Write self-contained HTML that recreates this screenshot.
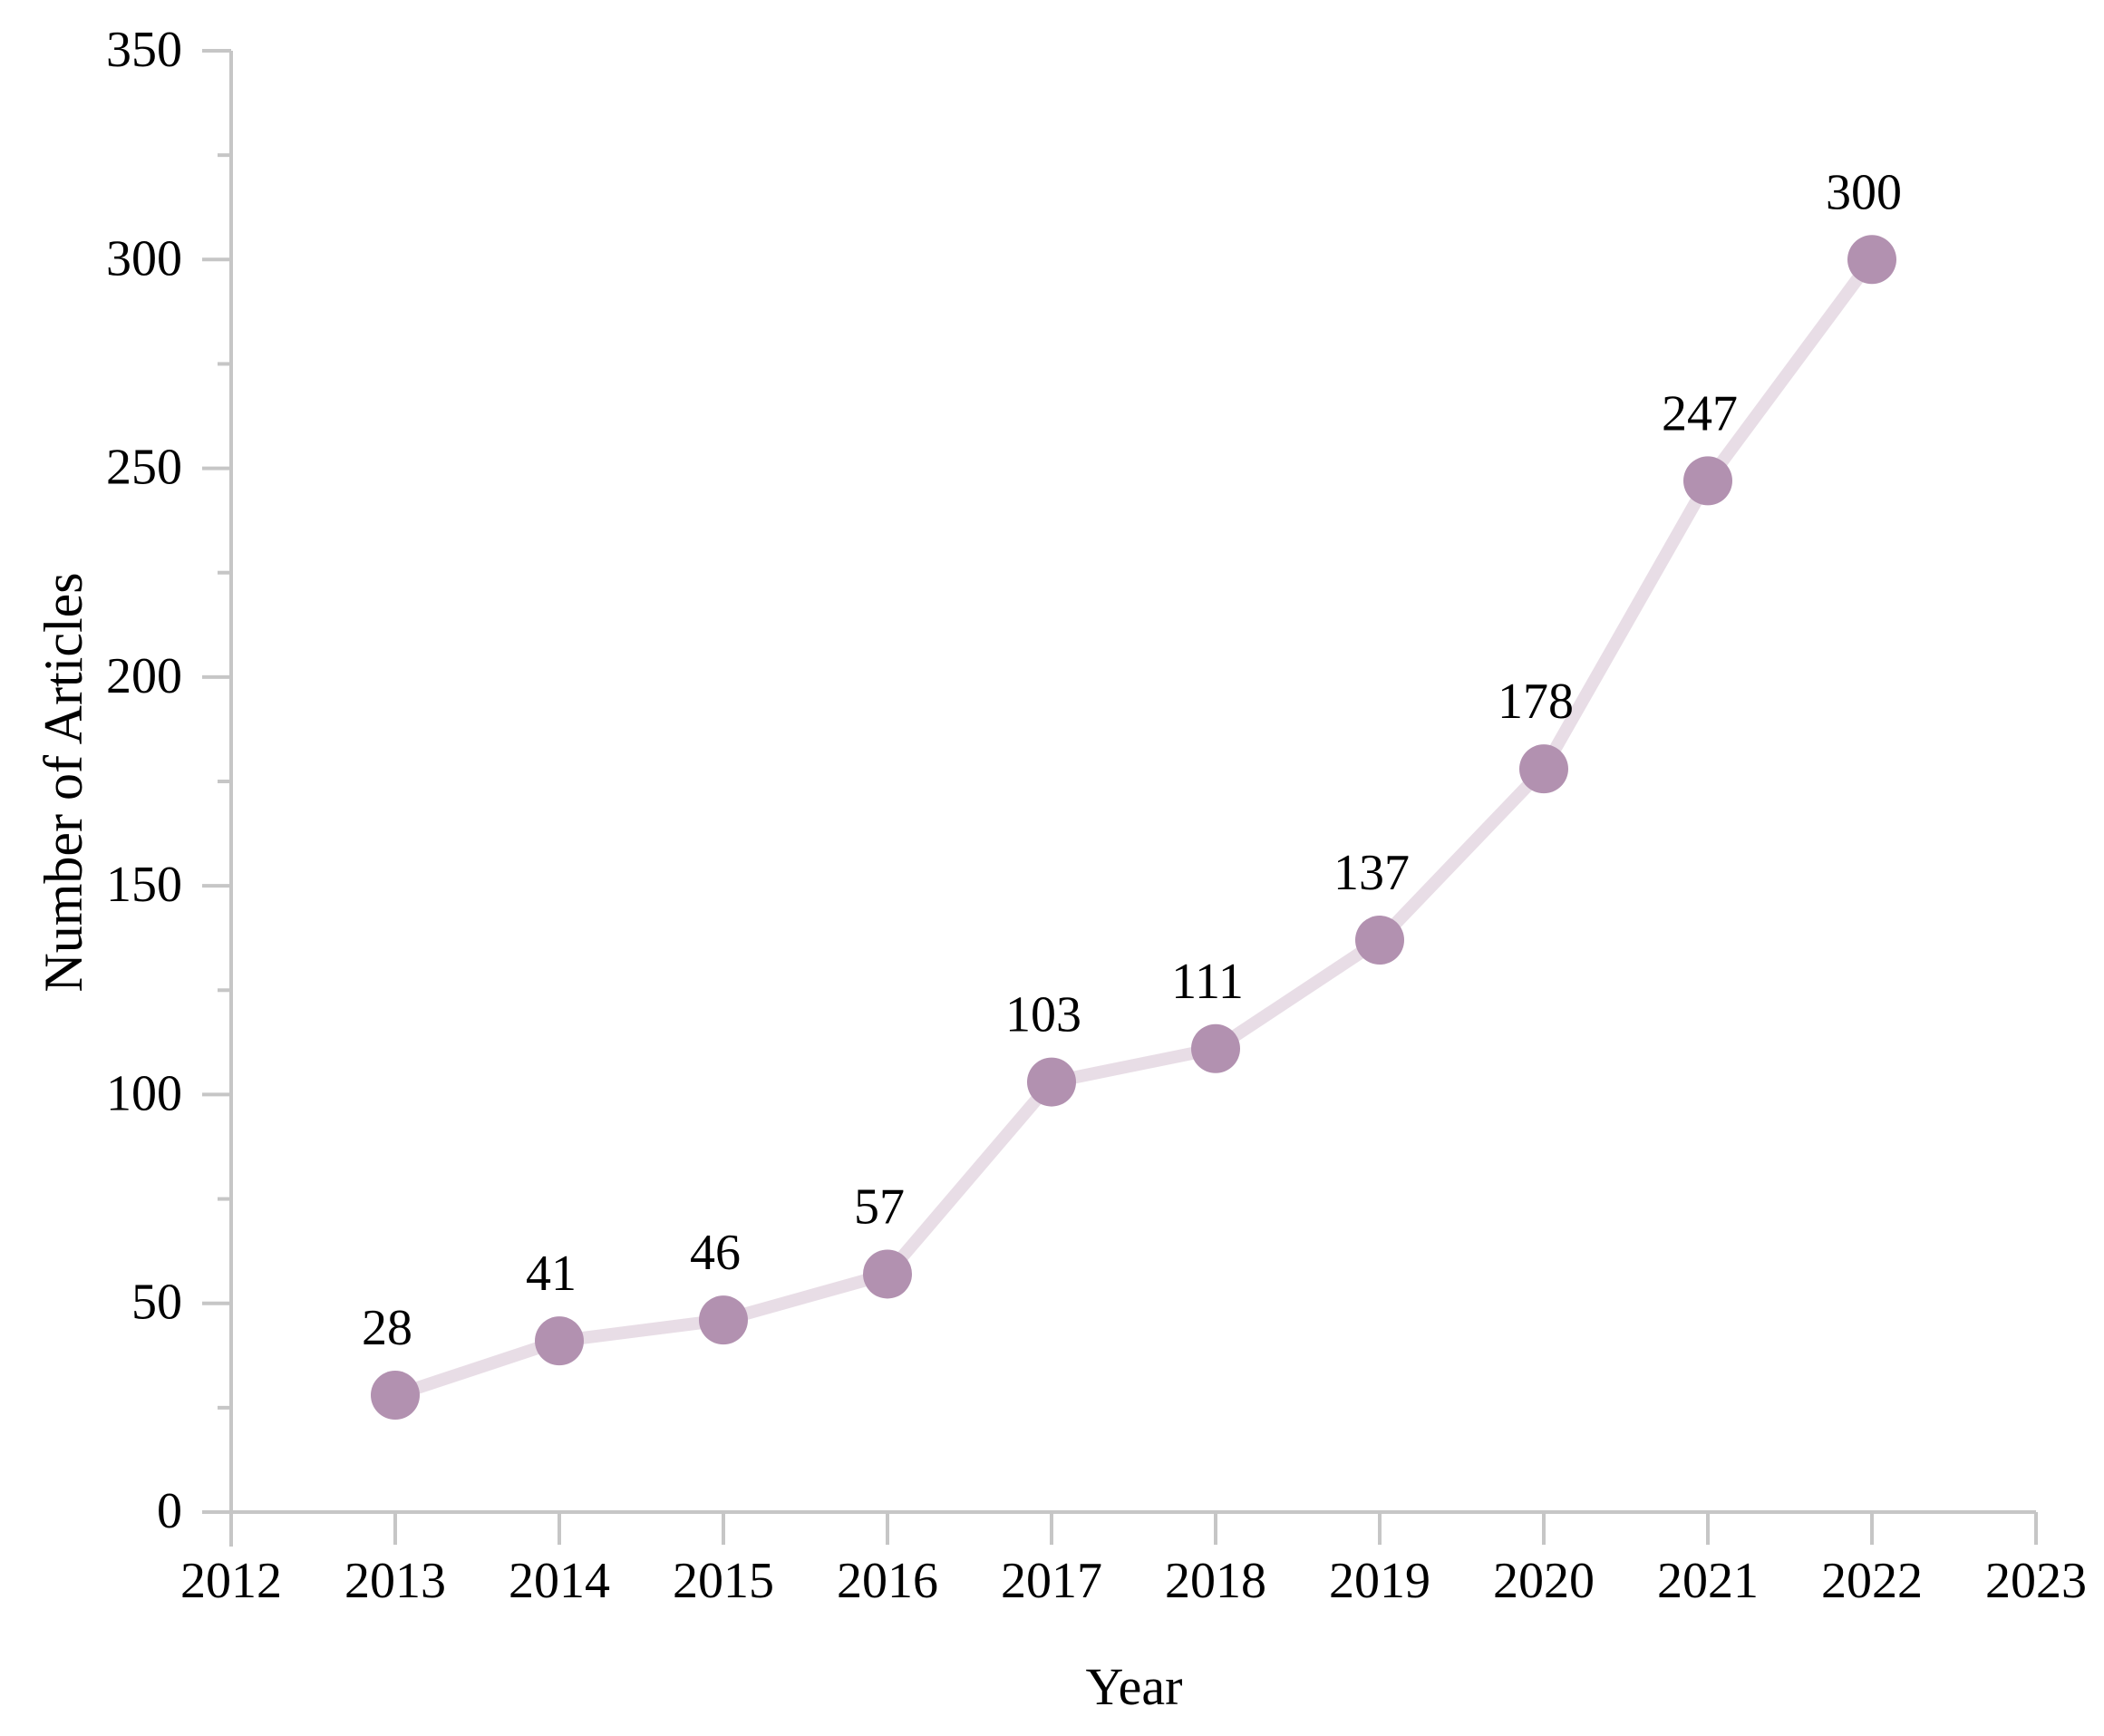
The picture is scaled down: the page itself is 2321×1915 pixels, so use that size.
<!DOCTYPE html>
<html><head><meta charset="utf-8"><style>
html,body{margin:0;padding:0;background:#fff;}
svg text{font-family:"Liberation Serif",serif;fill:#000;}
</style></head><body>
<svg id="chart" width="2321" height="1910" xmlns="http://www.w3.org/2000/svg">
<g id="axes"></g>
<g id="series"></g>
<text x="1251" y="1880" font-size="58" text-anchor="middle">Year</text>
<text x="0" y="0" font-size="60" text-anchor="middle" transform="translate(90,863) rotate(-90)">Number of Articles</text>
</svg>
<script>
const years = [2013,2014,2015,2016,2017,2018,2019,2020,2021,2022];
const articles = [28,41,46,57,103,111,137,178,247,300];
const xTicks = [2012,2013,2014,2015,2016,2017,2018,2019,2020,2021,2022,2023];
const yTicks = [0,50,100,150,200,250,300,350];
const yMinor = [25,75,125,175,225,275,325];

const NS = "http://www.w3.org/2000/svg";
const X0 = 255, XW = 181, Y0 = 1668, Y350 = 56;
function xs(v){ return X0 + (v - 2012) * XW; }
function ys(v){ return Y0 - v * (Y0 - Y350) / 350; }
function mk(tag, attrs, parent){ const e = document.createElementNS(NS, tag); for (const k in attrs) e.setAttribute(k, attrs[k]); parent.appendChild(e); return e; }

const axes = document.getElementById('axes');
const grey = '#c6c6c6';
let yAxis = mk('line', {x1:X0, y1:ys(350), x2:X0, y2:Y0+38, stroke:grey, 'stroke-width':4}, axes);


let xAxis = mk('line', {x1:X0-32, y1:Y0, x2:xs(2023), y2:Y0, stroke:grey, 'stroke-width':4}, axes);



yTicks.forEach(v => {
  const t = mk('line', {x1:X0-32, y1:ys(v), x2:X0, y2:ys(v), stroke:grey, 'stroke-width':4}, axes);
  
  
  const l = mk('text', {x:201, y:ys(v)+17, 'font-size':56, 'text-anchor':'end'}, axes);
  l.textContent = v;
  
  
});
yMinor.forEach(v => {
  const t = mk('line', {x1:X0-15, y1:ys(v), x2:X0, y2:ys(v), stroke:grey, 'stroke-width':4}, axes);
  
  
});
xTicks.forEach(v => {
  const t = mk('line', {x1:xs(v), y1:Y0, x2:xs(v), y2:Y0+36, stroke:grey, 'stroke-width':4}, axes);
  
  
  const l = mk('text', {x:xs(v), y:1762, 'font-size':56, 'text-anchor':'middle'}, axes);
  l.textContent = v;
  
  
});

const series = document.getElementById('series');
const pts = years.map((y,i) => xs(y)+','+ys(articles[i])).join(' ');
const line = mk('polyline', {points:pts, fill:'none', stroke:'#e8dde6', 'stroke-width':14, 'stroke-linejoin':'round'}, series);


years.forEach((y,i) => {
  const c = mk('circle', {cx:xs(y), cy:ys(articles[i]), r:27, fill:'#b291b0'}, series);
  
  
  const l = mk('text', {x:xs(y)-9, y:ys(articles[i])-56, 'font-size':56, 'text-anchor':'middle'}, series);
  l.textContent = articles[i];
  
  
});
</script>
</body></html>
